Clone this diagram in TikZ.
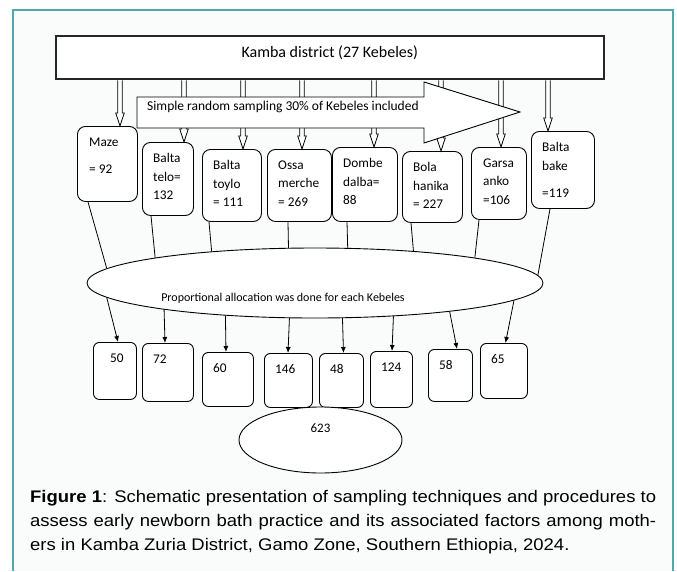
\documentclass[tikz,border=0pt]{standalone}
\usepackage{fontspec}
\setmainfont{Carlito}
\newfontfamily\capfont[FakeStretch=1.1]{Liberation Sans}
\usepackage{xcolor}
\usepackage{tikz}
\usetikzlibrary{shapes.geometric, arrows.meta, positioning, calc}
\definecolor{cFrame}{RGB}{80,168,170}
\definecolor{cPaper}{RGB}{250,252,252}
\tikzset{
	kbox/.style   ={rectangle, rounded corners=8pt, draw=black, line width=0.9pt, fill=white, anchor=north west, inner sep=0pt},
	resbox/.style ={kbox, rounded corners=6pt},
	ktext/.style  ={anchor=north west, align=left, inner sep=0pt, xshift=11pt, yshift=-11.5pt, font=\fontsize{13.3}{18.5}\selectfont},
	oval/.style   ={ellipse, draw=black, line width=0.9pt, fill=white, inner sep=0pt},
	hollow/.style ={draw=black, line width=0.8pt, fill=white},
	link/.style   ={line width=0.8pt},
	sig/.style    ={-{Latex[length=6pt, width=5pt]}, line width=0.8pt},
}
\begin{document}
\begin{tikzpicture}[x=1pt, y=-1pt]
					\useasboundingbox (0,0) rectangle (677,571);
					\fill[cPaper] (13,10) rectangle (673,571);
					\draw[cFrame, line width=1.5pt] (13,571) -- (13,10) -- (673,10) -- (673,571);
					\node[kbox, sharp corners, line width=1.6pt, draw=black!85, minimum width=548pt, minimum height=43pt, text height=12pt, text depth=11pt, font=\fontsize{16}{19}\selectfont] (kamba) at (55,35) {Kamba district (27 Kebeles)};
					\node[kbox, minimum width=60pt, minimum height=75pt, label={[ktext, xshift=1pt]north west:Maze\\[8.5pt]= 92}] (maze) at (77,126) {};
					\node[kbox, minimum width=51pt, minimum height=73pt, label={[ktext]north west:Balta\\telo=\\132}] (telo) at (142,142) {};
					\node[kbox, minimum width=59pt, minimum height=72pt, label={[ktext]north west:Balta\\toylo\\= 111}] (toylo) at (202,149) {};
					\node[kbox, minimum width=64pt, minimum height=72pt, label={[ktext]north west:Ossa\\merche\\= 269}] (ossa) at (267,149) {};
					\node[kbox, minimum width=65pt, minimum height=74pt, label={[ktext]north west:Dombe\\dalba=\\88}] (dombe) at (332,147) {};
					\node[kbox, minimum width=60pt, minimum height=71pt, label={[ktext]north west:Bola\\hanika\\= 227}] (bola) at (402,151) {};
					\node[kbox, minimum width=55pt, minimum height=72pt, label={[ktext, xshift=1pt]north west:Garsa\\anko\\=106}] (garsa) at (471,147) {};
					\node[kbox, minimum width=63pt, minimum height=77pt, label={[ktext]north west:Balta\\bake\\[9pt]=119}] (bake) at (531,131) {};
					\foreach \ax/\b in {120/maze, 184/telo, 243/toylo, 302/ossa, 374/dombe, 441/bola, 501/garsa, 548/bake}
						\draw[hollow] let \p1=(kamba.south), \p2=(\b.north) in
							(\ax-2.3,\y1-0.8pt) -- (\ax-2.3,\y2+13pt) -- (\ax-4.3,\y2+13pt) -- (\ax,\y2) -- (\ax+4.3,\y2+13pt) -- (\ax+2.3,\y2+13pt) -- (\ax+2.3,\y1-0.8pt);
					\draw[hollow, line width=0.9pt] (137,97) -- (424,97) -- (424,82) -- (520,112) -- (424,143) -- (424,128) -- (137,128) -- cycle;
					\node[anchor=west, inner sep=0pt, font=\fontsize{13.5}{16}\selectfont] (srs) at (147,107) {Simple random sampling 30\% of Kebeles included};
					\node[oval, minimum width=456pt, minimum height=70pt, label={[font=\fontsize{12}{14}\selectfont, xshift=-32pt, yshift=-15pt]center:Proportional allocation was done for each Kebeles}] (alloc) at (315,283) {};
					\node[resbox, minimum width=43pt, minimum height=57pt, label={[ktext, xshift=6pt]north west:50}] (r50) at (93,342) {};
					\node[resbox, minimum width=51pt, minimum height=58pt, label={[ktext]north west:72}] (r72) at (142,343) {};
					\node[resbox, minimum width=51pt, minimum height=54pt, label={[ktext]north west:60}] (r60) at (202,352) {};
					\node[resbox, minimum width=48pt, minimum height=54pt, label={[ktext]north west:146}] (r146) at (264,353) {};
					\node[resbox, minimum width=44pt, minimum height=54pt, label={[ktext]north west:48}] (r48) at (319,353) {};
					\node[resbox, minimum width=42pt, minimum height=56pt, label={[ktext]north west:124}] (r124) at (370,351) {};
					\node[resbox, minimum width=44pt, minimum height=52pt, label={[ktext]north west:58}] (r58) at (428,349) {};
					\node[resbox, minimum width=47pt, minimum height=55pt, label={[ktext]north west:65}] (r65) at (480,343) {};
					\node[oval, minimum width=163pt, minimum height=66pt, label={[font=\fontsize{13}{15}\selectfont, yshift=12pt]center:623}] (total) at (320.5,440) {};
					\draw[link] ([xshift=11pt]maze.south west) -- (alloc.176.5);
					\draw[link] ([xshift=9pt]telo.south west) -- (alloc.171.1);
					\draw[link] ([xshift=7pt]toylo.south west) -- (alloc.163.1);
					\draw[link] ([xshift=21pt]ossa.south west) -- (alloc.127.6);
					\draw[link] ([xshift=15pt]dombe.south west) -- (alloc.47.6);
					\draw[link] ([xshift=9pt]bola.south west) -- (alloc.18.6);
					\draw[link] ([xshift=8pt]garsa.south west) -- (alloc.9);
					\draw[link] ([xshift=19pt]bake.south west) -- (alloc.2.9);
					\draw[sig] (alloc.184.7) -- ([xshift=25pt]r50.north west);
					\draw[sig] (alloc.190) -- ([xshift=23pt]r72.north west);
					\draw[sig] (alloc.200.1) -- ([xshift=24pt]r60.north west);
					\draw[sig] (alloc.234.2) -- ([xshift=24pt]r146.north west);
					\draw[sig] (alloc.308.9) -- ([xshift=24.5pt]r48.north west);
					\draw[sig] (alloc.337.5) -- ([xshift=22pt]r124.north west);
					\draw[sig] (alloc.348.9) -- ([xshift=29pt]r58.north west);
					\draw[sig] (alloc.355.3) -- ([xshift=25.5pt]r65.north west);
					\node[anchor=north west, inner sep=0pt, text width=626pt, align=justify, font=\capfont\fontsize{16.8}{24}\selectfont] (cap) at (30,490.5) {\textbf{Figure 1}: Schematic presentation of sampling techniques and procedures to\linebreak assess early newborn bath practice and its associated factors among moth-\linebreak ers in Kamba Zuria District, Gamo Zone, Southern Ethiopia, 2024.};
				\end{tikzpicture}
\end{document}
